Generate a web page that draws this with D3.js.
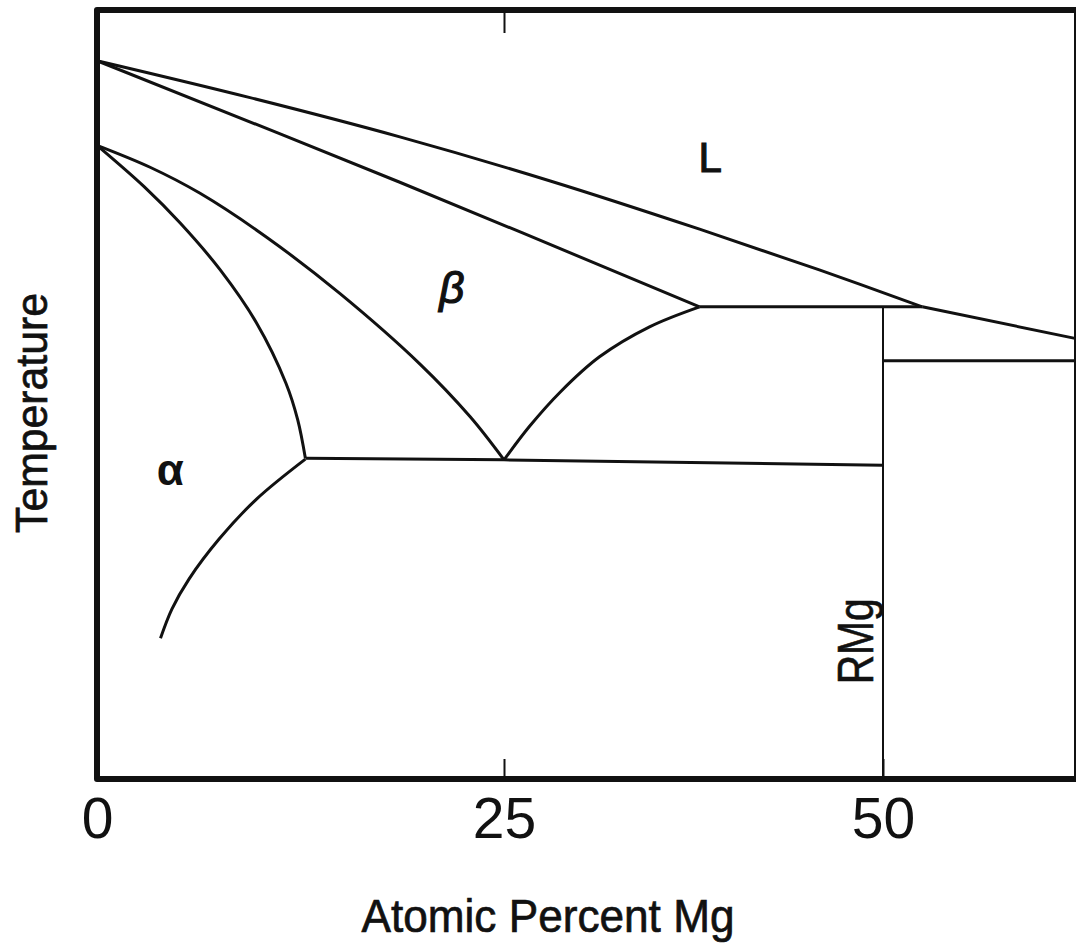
<!DOCTYPE html>
<html>
<head>
<meta charset="utf-8">
<script src="https://cdn.jsdelivr.net/npm/d3@7"></script>
<style>
  html, body { margin: 0; padding: 0; background: #fff; }
  svg { display: block; }
  text { font-family: "Liberation Sans", Arial, sans-serif; fill: #111; }
</style>
</head>
<body>
<div id="chart"></div>
<script>
// composition (atomic % Mg) vs relative temperature
const xTicks = [0, 25, 50];
const xTicksTop = [25];

const liquidus = [[0, 93.4], [9.4, 88.6], [18.6, 83.5], [28.0, 77.8], [37.9, 71.5], [45.8, 66.2], [52.6, 61.4]];
const liquidusRMg = [[52.6, 61.4], [62.7, 57.3]];
const solidusBeta = [[0, 93.4], [18.6, 77.6], [37.9, 61.4]];
const peritectic = [[37.9, 61.4], [52.6, 61.4]];
const rmgPhase = [[50, 61.4], [50, 0]];
const rmgTransition = [[50, 54.4], [62.7, 54.4]];
const alphaSolvusUpper = [[0, 82.4], [2.91, 77.0], [5.11, 72.3], [7.57, 66.2], [9.8, 59.3], [11.6, 51.5], [12.33, 46.7], [12.8, 41.7]];
const betaSolvusLeft = [[0, 82.4], [3.26, 79.55], [6.33, 76.16], [10.44, 70.42], [14.93, 63.11], [19.84, 53.95], [22.91, 47.13], [25, 41.5]];
const betaSolvusRight = [[25, 41.5], [26.7, 45.9], [28.7, 50.3], [31.3, 54.9], [34.6, 58.8], [37.9, 61.4]];
const eutectoid = [[12.8, 41.7], [25, 41.5], [50, 40.8]];
const alphaSolvusLower = [[12.8, 41.6], [9.8, 36.4], [7.5, 31.2], [5.65, 26.0], [4.6, 22.1], [3.9, 18.3]];

const phaseLabels = [
  { text: "L", at: [38.6, 78.9] },
  { text: "β", at: [21.8, 61.9] },
  { text: "α", at: [4.5, 38.2] }
];
const compoundLabel = { text: "RMg", at: [49.85, 17.9] };

const width = 1076;
const height = 947;

// the hand-drawn axis is not quite linear, so the scale is piecewise
const x = d3.scaleLinear().domain([0, 25, 50, 62.7]).range([97, 504, 883, 1075]);
const y = d3.scaleLinear().domain([0, 100]).range([779, 10]);

const svg = d3.select("#chart")
  .append("svg")
  .attr("width", width)
  .attr("height", height);

svg.append("rect").attr("width", width).attr("height", height).attr("fill", "#fff");

const smooth = d3.line().x((d) => x(d[0])).y((d) => y(d[1])).curve(d3.curveCatmullRom.alpha(0.5));
const straight = d3.line().x((d) => x(d[0])).y((d) => y(d[1]));

const curves = [liquidus, solidusBeta, alphaSolvusUpper, betaSolvusLeft, betaSolvusRight, alphaSolvusLower];
const lines = [liquidusRMg, peritectic, rmgTransition, eutectoid];

svg.append("g")
  .selectAll("path")
  .data(curves)
  .join("path")
  .attr("fill", "none")
  .attr("stroke", "#111")
  .attr("stroke-width", 3)
  .attr("stroke-linejoin", "round")
  .attr("d", smooth);

svg.append("g")
  .selectAll("path")
  .data(lines)
  .join("path")
  .attr("fill", "none")
  .attr("stroke", "#111")
  .attr("stroke-width", 3)
  .attr("d", straight);

svg.append("path")
  .datum(rmgPhase)
  .attr("fill", "none")
  .attr("stroke", "#111")
  .attr("stroke-width", 2)
  .attr("d", straight);

// frame
const [x0, x1] = [x(0), x(62.7)];
const [yb, yt] = [y(0), y(100)];
svg.append("line").attr("x1", x1).attr("x2", x1).attr("y1", yt).attr("y2", yb)
  .attr("stroke", "#111").attr("stroke-width", 2);
svg.append("path")
  .attr("d", `M${x1 + 2},${yt}H${x0}V${yb}H${x1 + 2}`)
  .attr("fill", "none")
  .attr("stroke", "#111")
  .attr("stroke-width", 6)
  .attr("stroke-linejoin", "round");

// axes: inward ticks, no domain line
const bottomAxis = svg.append("g")
  .attr("transform", `translate(0,${yb})`)
  .call(d3.axisBottom(x).tickValues(xTicks).tickSize(-20).tickPadding(19).tickFormat(d3.format("d")));
bottomAxis.select(".domain").remove();
bottomAxis.selectAll(".tick line").attr("stroke", "#111").attr("stroke-width", 2);
bottomAxis.selectAll(".tick text")
  .attr("font-family", "'DejaVu Sans', sans-serif")
  .attr("font-size", 57)
  .attr("fill", "#111");

const topAxis = svg.append("g")
  .attr("transform", `translate(0,${yt})`)
  .call(d3.axisTop(x).tickValues(xTicksTop).tickSize(-23).tickFormat(""));
topAxis.select(".domain").remove();
topAxis.selectAll(".tick line").attr("stroke", "#111").attr("stroke-width", 2);

svg.append("text")
  .attr("x", (x0 + x(50)) / 2 + 58)
  .attr("y", 932)
  .attr("text-anchor", "middle")
  .attr("font-size", 47)
  .attr("stroke", "#111")
  .attr("stroke-width", 0.7)
  .attr("textLength", 373)
  .attr("lengthAdjust", "spacingAndGlyphs")
  .text("Atomic Percent Mg");

svg.append("text")
  .attr("transform", `translate(47,413) rotate(-90)`)
  .attr("text-anchor", "middle")
  .attr("font-size", 44)
  .attr("stroke", "#111")
  .attr("stroke-width", 0.7)
  .attr("textLength", 240)
  .attr("lengthAdjust", "spacingAndGlyphs")
  .text("Temperature");

// phase field labels
svg.append("g")
  .selectAll("text")
  .data(phaseLabels)
  .join("text")
  .attr("x", (d) => x(d.at[0]))
  .attr("y", (d) => y(d.at[1]))
  .attr("text-anchor", "middle")
  .attr("font-size", (d) => (d.text === "L" ? 42 : 44))
  .attr("font-style", (d) => (d.text === "β" ? "italic" : "normal"))
  .attr("font-weight", (d) => (d.text === "α" ? "bold" : "normal"))
  .attr("stroke", "#111")
  .attr("stroke-width", (d) => (d.text === "α" ? 0 : 1.2))
  .text((d) => d.text);

svg.append("text")
  .attr("transform", `translate(${x(compoundLabel.at[0]) - 8},${y(compoundLabel.at[1])}) rotate(-90)`)
  .attr("text-anchor", "middle")
  .attr("font-size", 50)
  .attr("stroke", "#111")
  .attr("stroke-width", 0.6)
  .attr("textLength", 86)
  .attr("lengthAdjust", "spacingAndGlyphs")
  .text(compoundLabel.text);
</script>
</body>
</html>
